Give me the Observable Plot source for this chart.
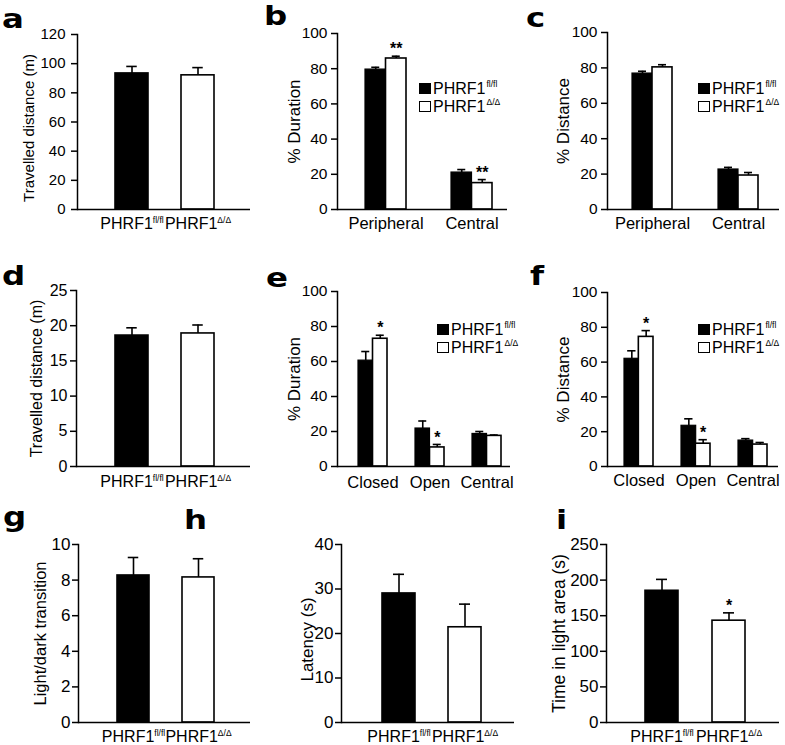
<!DOCTYPE html>
<html><head><meta charset="utf-8">
<script src="https://cdn.jsdelivr.net/npm/d3@7"></script>
<script src="https://cdn.jsdelivr.net/npm/@observablehq/plot@0.6"></script>
<style>
body{margin:0;background:#fff;}
#fig{position:relative;width:785px;height:745px;overflow:hidden;font-family:"Liberation Sans",Arial,Helvetica,sans-serif;color:#000;background:#fff;}
.panel{position:absolute;}
.panel svg{overflow:visible;}
.letter{position:absolute;font-family:"DejaVu Sans",sans-serif;font-weight:bold;font-size:27px;line-height:27px;transform:scaleX(1.2);transform-origin:left top;}
.leg{position:absolute;display:flex;align-items:center;font-size:16px;line-height:18px;height:18px;white-space:nowrap;}
.sw{width:12px;height:11px;box-sizing:border-box;border:1.4px solid #000;margin-right:2px;}
.sup{font-size:8.5px;line-height:8px;position:relative;top:-5px;margin-left:1px;}
</style></head><body><div id="fig"></div>
<script>
// ---------- data ----------
const genotypes = ["fl/fl", "Δ/Δ"];
const genotypeFill = ["black", "white"];

// a: open field, travelled distance (m)
const aValues = [93.3, 92.0];
const aErrTop = [98.1, 97.3];
const aTicks = [0, 20, 40, 60, 80, 100, 120];

// b: open field, % duration
const bCategories = ["Peripheral", "Central"];
const bFl = [79.5, 21.0];
const bFlErrTop = [80.8, 22.7];
const bDelta = [85.8, 15.0];
const bDeltaErrTop = [87.1, 17.0];
const bStars = ["**", "**"];

// c: open field, % distance
const cCategories = ["Peripheral", "Central"];
const cFl = [76.8, 22.6];
const cFlErrTop = [78.1, 23.8];
const cDelta = [80.3, 19.2];
const cDeltaErrTop = [81.8, 20.9];
const cStars = ["", ""];

const pctTicks = [0, 20, 40, 60, 80, 100];

// d: elevated plus maze, travelled distance (m)
const dValues = [18.6, 18.9];
const dErrTop = [19.7, 20.1];
const dTicks = [0, 5, 10, 15, 20, 25];

// e: elevated plus maze, % duration
const eCategories = ["Closed", "Open", "Central"];
const eFl = [60.5, 21.7, 18.6];
const eFlErrTop = [65.7, 26.0, 20.0];
const eDelta = [73.0, 10.9, 17.5];
const eDeltaErrTop = [75.0, 12.6, 18.0];
const eStars = ["*", "*", ""];

// f: elevated plus maze, % distance
const fCategories = ["Closed", "Open", "Central"];
const fFl = [61.9, 23.4, 14.9];
const fFlErrTop = [66.5, 27.4, 16.0];
const fDelta = [74.5, 13.1, 12.6];
const fDeltaErrTop = [78.1, 15.4, 13.8];
const fStars = ["*", "*", ""];

// g: light/dark transitions
const gValues = [8.26, 8.15];
const gErrTop = [9.27, 9.2];
const gTicks = [0, 2, 4, 6, 8, 10];

// h: latency (s)
const hValues = [29.0, 21.4];
const hErrTop = [33.3, 26.6];
const hTicks = [0, 10, 20, 30, 40];

// i: time in light area (s)
const iValues = [185, 143];
const iErrTop = [201, 154];
const iStars = ["", "*"];
const iTicks = [0, 50, 100, 150, 200, 250];

// ---------- layout ----------
const FONT = '"Liberation Sans", Arial, Helvetica, sans-serif';
const fig = document.getElementById("fig");

function bandOptions(X0, X1, spans) {
  const n = spans.length;
  const bw = d3.mean(spans, s => s[1] - s[0]);
  const c0 = (spans[0][0] + spans[0][1]) / 2;
  const cn = (spans[n - 1][0] + spans[n - 1][1]) / 2;
  const step = (cn - c0) / (n - 1);
  const rest = (X1 - X0) - ((n - 1) * step + bw);
  const left = (c0 - bw / 2) - X0;
  return {paddingInner: 1 - bw / step, paddingOuter: rest / (2 * step), align: left / rest};
}

function superscriptTicks(svg) {
  svg.querySelectorAll('g[aria-label="x-axis tick label"] text').forEach(t => {
    const s = t.textContent;
    if (!s.includes("|")) return;
    const [main, sup] = s.split("|");
    t.textContent = "";
    const a = document.createElementNS("http://www.w3.org/2000/svg", "tspan");
    a.textContent = main;
    const b = document.createElementNS("http://www.w3.org/2000/svg", "tspan");
    b.textContent = sup;
    b.setAttribute("font-size", "8.5");
    b.setAttribute("dy", "-5.5");
    t.appendChild(a); t.appendChild(b);
  });
}

function place(node, box) {
  const div = document.createElement("div");
  div.className = "panel";
  div.style.left = box[0] + "px";
  div.style.top = box[1] + "px";
  div.appendChild(node);
  fig.appendChild(div);
  superscriptTicks(node);
}

function commonMarks(L) {
  return [
    Plot.frame({anchor: "left", strokeWidth: 1.5}),
    Plot.ruleY([0], {strokeWidth: 1.5}),
    Plot.axisY({ticks: L.ticks, tickSize: 6, tickPadding: L.tickPad, fontSize: L.tickFont, strokeWidth: 1.5, label: null}),
    Plot.text([L.title], {frameAnchor: "left", text: d => d, rotate: -90, textAnchor: "middle", lineAnchor: "middle",
      dx: L.titleX - L.X0, dy: L.titleDy || 0, fontSize: L.titleFont})
  ];
}

function margins(L) {
  const [bl, bt, bwid, bht] = L.box;
  return {width: bwid, height: bht, marginLeft: L.X0 - bl, marginRight: bl + bwid - L.X1,
          marginTop: L.Yt - bt, marginBottom: bt + bht - L.Y0};
}

function singlePanel(L, values, errTop, stars) {
  const m = margins(L);
  const xo = {type: "band", domain: genotypes, ...bandOptions(L.X0, L.X1, L.spans)};
  const bw = Plot.scale({x: {...xo, range: [m.marginLeft, m.width - m.marginRight]}}).bandwidth;
  const rows = genotypes.map((g, i) => ({g, v: values[i], top: errTop[i], star: stars ? stars[i] : ""}));
  const cap = 11;
  const svg = Plot.plot({
    ...m,
    style: {fontFamily: FONT, background: "none", color: "black", overflow: "visible"},
    x: {...xo, axis: null},
    y: {domain: [0, L.ymax], axis: null},
    color: {domain: genotypes, range: genotypeFill},
    marks: [
      Plot.barY(rows, {x: "g", y: "v", fill: "g", stroke: "black", strokeWidth: 1.6}),
      Plot.ruleX(rows, {x: "g", y1: "v", y2: "top", strokeWidth: 1.6}),
      Plot.tickY(rows, {x: "g", y: "top", strokeWidth: 1.6, insetLeft: (bw - cap) / 2, insetRight: (bw - cap) / 2}),
      Plot.text(rows.filter(d => d.star), {x: "g", y: "top", text: "star", dy: -7, fontSize: 16, fontWeight: "bold"}),
      ...commonMarks(L),
      Plot.axisX({tickSize: 0, tickPadding: L.xPad, fontSize: L.xFont, label: null, tickFormat: g => "PHRF1|" + g})
    ]
  });
  place(svg, L.box);
}

function groupedPanel(L, cats, fl, flTop, dl, dlTop, stars) {
  const m = margins(L);
  const xo = {type: "band", domain: cats, ...bandOptions(L.X0, L.X1, L.spans)};
  const bw = Plot.scale({x: {...xo, range: [m.marginLeft, m.width - m.marginRight]}}).bandwidth;
  const rowsFl = cats.map((c, i) => ({c, v: fl[i], top: flTop[i]}));
  const rowsDl = cats.map((c, i) => ({c, v: dl[i], top: dlTop[i], star: stars[i]}));
  const cap = 8;
  const h = bw / 2, q = bw / 4;
  const svg = Plot.plot({
    ...m,
    style: {fontFamily: FONT, background: "none", color: "black", overflow: "visible"},
    x: {...xo, axis: null},
    y: {domain: [0, 100], axis: null},
    marks: [
      Plot.barY(rowsFl, {x: "c", y: "v", fill: genotypeFill[0], stroke: "black", strokeWidth: 1.2, insetRight: h}),
      Plot.barY(rowsDl, {x: "c", y: "v", fill: genotypeFill[1], stroke: "black", strokeWidth: 1.6, insetLeft: h}),
      Plot.ruleX(rowsFl, {x: "c", y1: "v", y2: "top", dx: -q, strokeWidth: 1.6}),
      Plot.ruleX(rowsDl, {x: "c", y1: "v", y2: "top", dx: q, strokeWidth: 1.6}),
      Plot.tickY(rowsFl, {x: "c", y: "top", strokeWidth: 1.6, insetLeft: q - cap / 2, insetRight: 3 * q - cap / 2}),
      Plot.tickY(rowsDl, {x: "c", y: "top", strokeWidth: 1.6, insetLeft: 3 * q - cap / 2, insetRight: q - cap / 2}),
      Plot.text(rowsDl.filter(d => d.star), {x: "c", y: "top", text: "star", dx: q, dy: -7, fontSize: 16, fontWeight: "bold"}),
      ...commonMarks(L),
      Plot.axisX({tickSize: 0, tickPadding: L.xPad, fontSize: L.xFont, label: null})
    ]
  });
  place(svg, L.box);
  // legend
  genotypes.forEach((g, j) => {
    const row = document.createElement("div");
    row.className = "leg";
    row.style.left = L.legend[0] + "px";
    row.style.top = (L.legend[1] + j * 18 - 3.5) + "px";
    const sw = document.createElement("div");
    sw.className = "sw";
    sw.style.background = genotypeFill[j];
    const tx = document.createElement("span");
    tx.textContent = "PHRF1";
    const sp = document.createElement("span");
    sp.className = "sup";
    sp.textContent = g;
    row.appendChild(sw); row.appendChild(tx); row.appendChild(sp);
    fig.appendChild(row);
  });
}

function letter(ch, x, top) {
  const d = document.createElement("div");
  d.className = "letter";
  d.textContent = ch;
  d.style.left = x + "px";
  d.style.top = top + "px";
  fig.appendChild(d);
}

// ---------- panels ----------
singlePanel({box: [0, 0, 262, 250], X0: 77, X1: 250, Yt: 34, Y0: 209, spans: [[114, 148], [181, 214]],
  ymax: 120, ticks: aTicks, tickPad: 6, tickFont: 15, title: "Travelled distance (m)", titleX: 29, titleDy: 6, titleFont: 15,
  xPad: 8, xFont: 16}, aValues, aErrTop, null);

groupedPanel({box: [262, 0, 262, 250], X0: 337, X1: 507, Yt: 33, Y0: 209, spans: [[365, 406], [451, 492]],
  ticks: pctTicks, tickPad: 4, tickFont: 15.5, title: "% Duration", titleX: 294, titleFont: 17,
  xPad: 8, xFont: 16.5, legend: [419, 83]}, bCategories, bFl, bFlErrTop, bDelta, bDeltaErrTop, bStars);

groupedPanel({box: [524, 0, 261, 250], X0: 607, X1: 779, Yt: 32, Y0: 209, spans: [[632, 672], [718, 758]],
  ticks: pctTicks, tickPad: 4, tickFont: 15.5, title: "% Distance", titleX: 563, titleFont: 17,
  xPad: 8, xFont: 16.5, legend: [698, 83]}, cCategories, cFl, cFlErrTop, cDelta, cDeltaErrTop, cStars);

singlePanel({box: [0, 250, 262, 250], X0: 76, X1: 250, Yt: 290, Y0: 466, spans: [[114, 148], [181, 214]],
  ymax: 25, ticks: dTicks, tickPad: 3, tickFont: 16, title: "Travelled distance (m)", titleX: 36, titleFont: 16,
  xPad: 9, xFont: 16}, dValues, dErrTop, null);

groupedPanel({box: [262, 250, 262, 250], X0: 337, X1: 510, Yt: 291, Y0: 466, spans: [[358, 387], [414, 444], [473, 501]],
  ticks: pctTicks, tickPad: 4, tickFont: 15.5, title: "% Duration", titleX: 294, titleFont: 17,
  xPad: 10, xFont: 16.5, legend: [437, 324]}, eCategories, eFl, eFlErrTop, eDelta, eDeltaErrTop, eStars);

groupedPanel({box: [524, 250, 261, 250], X0: 607, X1: 778, Yt: 292, Y0: 466, spans: [[624, 652], [681, 710], [738, 767]],
  ticks: pctTicks, tickPad: 4, tickFont: 15.5, title: "% Distance", titleX: 563, titleFont: 17,
  xPad: 8, xFont: 16.5, legend: [698, 324]}, fCategories, fFl, fFlErrTop, fDelta, fDeltaErrTop, fStars);

singlePanel({box: [0, 500, 262, 245], X0: 78, X1: 250, Yt: 544, Y0: 722, spans: [[117, 149], [182, 215]],
  ymax: 10, ticks: gTicks, tickPad: 2, tickFont: 17, title: "Light/dark transition", titleX: 40, titleFont: 16.5,
  xPad: 8, xFont: 16}, gValues, gErrTop, null);

singlePanel({box: [262, 500, 262, 245], X0: 341, X1: 514, Yt: 544, Y0: 722, spans: [[382, 415], [448, 481]],
  ymax: 40, ticks: hTicks, tickPad: 2, tickFont: 17, title: "Latency (s)", titleX: 307, titleDy: 6, titleFont: 17,
  xPad: 8, xFont: 16}, hValues, hErrTop, null);

singlePanel({box: [524, 500, 261, 245], X0: 606, X1: 779, Yt: 544, Y0: 722, spans: [[645, 677], [711, 745]],
  ymax: 250, ticks: iTicks, tickPad: 2, tickFont: 17, title: "Time in light area (s)", titleX: 559, titleFont: 17.5,
  xPad: 8, xFont: 16}, iValues, iErrTop, iStars);

letter("a", 2, 5); letter("b", 264, 2); letter("c", 526, 4);
letter("d", 2, 262); letter("e", 266, 264); letter("f", 530, 262);
letter("g", 3, 503); letter("h", 184, 506); letter("i", 556, 506);
</script></body></html>
